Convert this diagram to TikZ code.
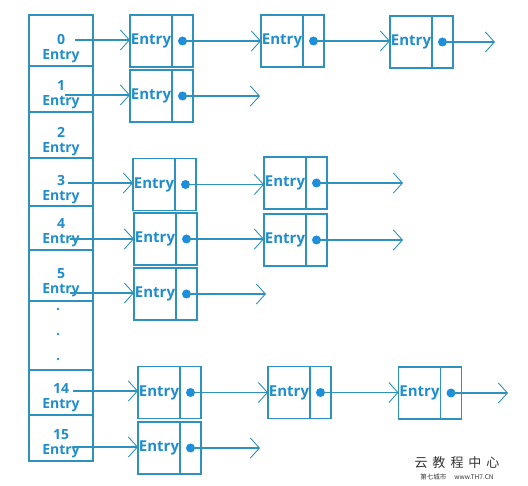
\documentclass[tikz,border=0pt]{standalone}
\usepackage{fontspec}
\setmainfont{Open Sans}
\newfontfamily\cjk{Noto Sans CJK SC}
\usetikzlibrary{positioning,arrows.meta}
\definecolor{linecol}{RGB}{46,146,190}
\definecolor{textcol}{RGB}{32,142,204}
\definecolor{ballcol}{RGB}{28,142,222}

\begin{document}
\begin{tikzpicture}[x=1pt,y=-1pt,
  cell/.style={draw=linecol,line width=1.3pt,minimum width=64pt,inner sep=0pt,outer sep=0pt},
  idx/.style={text=textcol,font=\bfseries\fontsize{14}{15}\selectfont,align=center,inner sep=0pt},
  entry/.style={draw=linecol,line width=1.3pt,minimum width=42pt,minimum height=52pt,inner sep=0pt,outer sep=0pt,
    text=textcol,font=\bfseries\fontsize{15}{15}\selectfont},
  ptr/.style={draw=linecol,line width=1.3pt,minimum width=21pt,minimum height=52pt,inner sep=0pt,outer sep=0pt,right=0pt of #1},
  ball/.style={circle,fill=ballcol,inner sep=0pt,minimum size=9pt},
  link/.style={draw=linecol,line width=1.3pt,-{Straight Barb[length=9pt,width=20pt,line width=0.9pt]}}]
\useasboundingbox (0,0) rectangle (528,486);

% table of slots
\node[cell,minimum height=51pt] (c0) at (61,40.5) {};
\node[cell,minimum height=46pt,below=0pt of c0] (c1) {};
\node[cell,minimum height=46pt,below=0pt of c1] (c2) {};
\node[cell,minimum height=48pt,below=0pt of c2] (c3) {};
\node[cell,minimum height=44pt,below=0pt of c3] (c4) {};
\node[cell,minimum height=51pt,below=0pt of c4] (c5) {};
\node[cell,minimum height=69pt,below=0pt of c5] (c6) {};
\node[cell,minimum height=45pt,below=0pt of c6] (c14) {};
\node[cell,minimum height=46pt,below=0pt of c14] (c15) {};

\node[idx,above=3pt of c0.south] (t0) {0\\Entry};
\node[idx,above=3pt of c1.south] (t1) {1\\Entry};
\node[idx,above=2pt of c2.south] (t2) {2\\Entry};
\node[idx,above=2pt of c3.south] (t3) {3\\Entry};
\node[idx,above=3pt of c4.south] (t4) {4\\Entry};
\node[idx,above=4pt of c5.south] (t5) {5\\Entry};
\node[idx,above=3pt of c14.south] (t14) {14\\Entry};
\node[idx,above=3pt of c15.south] (t15) {15\\Entry};
\foreach \y in {309,334,359}
  \fill[textcol] (58,\y) circle (1.4pt);

% entries
\foreach \n/\x/\y in {00/151/41, 01/282/41, 02/411/42, 10/151/96,
    30/154/184.5, 31/285/183, 40/155/239, 41/285/240, 50/155/294,
    140/159/392.5, 141/289/392.5, 142/419.5/393, 150/159/448}{
  \node[entry] (b\n) at (\x,\y) {Entry};
  \node[ptr=b\n] (p\n) {};
  \node[ball] (d\n) at (p\n.center) {};
}

\coordinate (s0) at (75,40);
\coordinate (s1) at (65,95);
\coordinate (s3) at (68,183);
\coordinate (s4) at (70,239);
\coordinate (s5) at (70,293);
\coordinate (s14) at (73,391);
\coordinate (s15) at (73,447);
\coordinate (e0) at (495,42);
\coordinate (e1) at (260,96);
\coordinate (e3) at (403,183);
\coordinate (e4) at (403,240);
\coordinate (e5) at (266,294);
\coordinate (e14) at (508,393);
\coordinate (e15) at (260,448);

\draw[link] (s0) -- (s0 -| b00.west);
\draw[link] (d00.center) -- (d00.center -| b01.west);
\draw[link] (d01.center) -- (d01.center -| b02.west);
\draw[link] (d02.center) -- (e0);
\draw[link] (s1) -- (s1 -| b10.west);
\draw[link] (d10.center) -- (e1);
\draw[link] (s3) -- (s3 -| b30.west);
\draw[link] (d30.center) -- (d30.center -| b31.west);
\draw[link] (d31.center) -- (e3);
\draw[link] (s4) -- (s4 -| b40.west);
\draw[link] (d40.center) -- (d40.center -| b41.west);
\draw[link] (d41.center) -- (e4);
\draw[link] (s5) -- (s5 -| b50.west);
\draw[link] (d50.center) -- (e5);
\draw[link] (s14) -- (s14 -| b140.west);
\draw[link] (d140.center) -- (d140.center -| b141.west);
\draw[link] (d141.center) -- (d141.center -| b142.west);
\draw[link] (d142.center) -- (e14);
\draw[link] (s15) -- (s15 -| b150.west);
\draw[link] (d150.center) -- (e15);

% watermark
\node[font=\cjk\fontsize{13}{13}\selectfont,text=black!80] (wm) at (457,463) {云\hspace{5pt}教\hspace{5pt}程\hspace{5pt}中\hspace{5pt}心};
\node[font=\cjk\fontsize{6.5}{7}\selectfont,text=black!80,below=1pt of wm,inner sep=0pt] (wm2) {第七城市\hspace{8pt}www.TH7.CN};
\end{tikzpicture}
\end{document}
